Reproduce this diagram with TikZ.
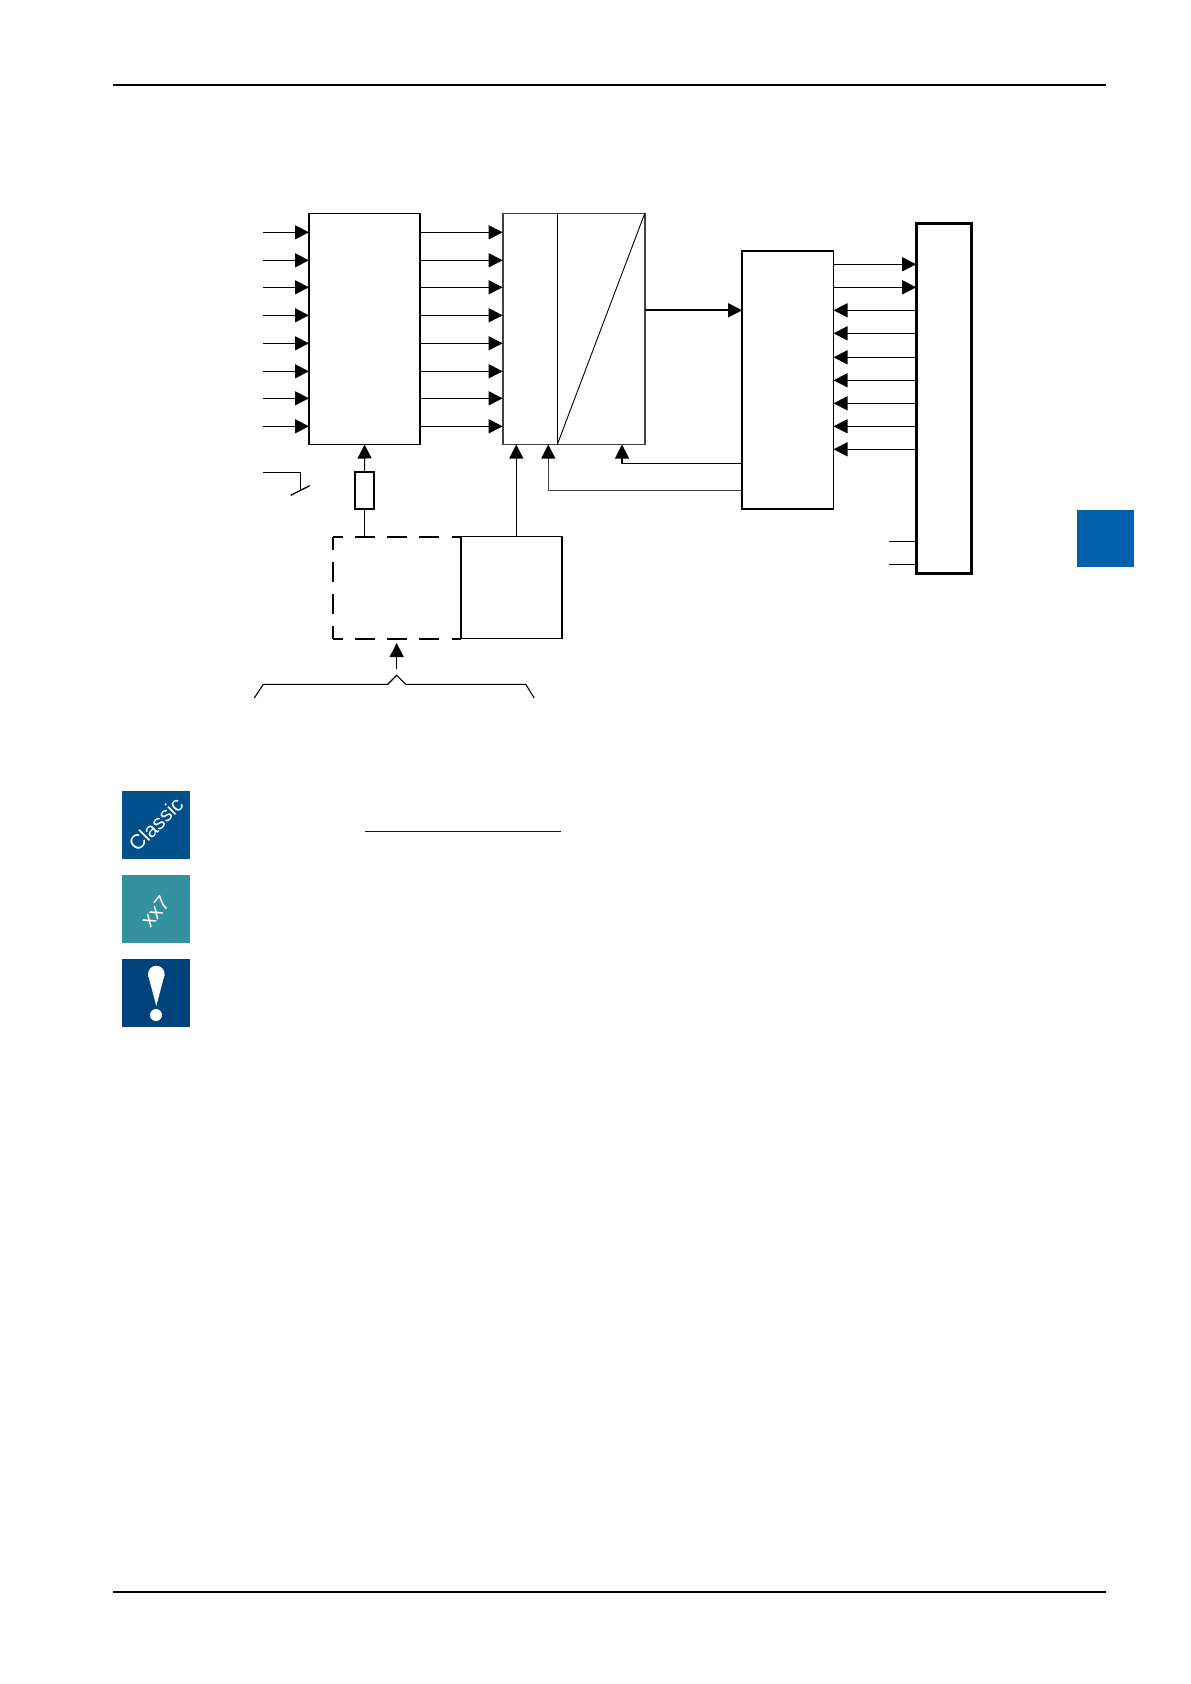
\documentclass[tikz,border=0pt]{standalone}
\usepackage{fontspec}
\setmainfont{Liberation Sans}
\usetikzlibrary{arrows.meta}
\newcommand{\pxu}{0.6pt}
\definecolor{tabblue}{HTML}{0060A9}
\definecolor{classicblue}{HTML}{00508C}
\definecolor{xxteal}{HTML}{3391A0}
\definecolor{hintblue}{HTML}{00427C}
\definecolor{linkblue}{HTML}{0000AA}
\tikzset{block/.style={draw,inner sep=0pt,outer sep=0pt,line width=1.7*\pxu},
 sig/.style={line width=1.1*\pxu,-{Triangle[length=14*\pxu,width=14*\pxu]}},
 wire/.style={line width=1.1*\pxu},
 dashside/.style={line width=2*\pxu,dash pattern=on 20*\pxu off 12.3*\pxu,dash phase=#1*\pxu},
 icon/.style={fill=#1,draw=none,minimum size=68*\pxu,inner sep=0pt,outer sep=0pt},
 icontext/.style={white,font=\fontsize{12.4}{12.4}\selectfont,inner sep=0pt},
 pagerule/.style={line width=1.1*\pxu},
}

\begin{document}
\begin{tikzpicture}[x=\pxu,y=-\pxu]
        \useasboundingbox (0,0) rectangle (1191,1684);
        \coordinate (ruletopl) at (113,85);
        \coordinate (ruletopr) at (1106,85);
        \coordinate (rulebotl) at (113,1592);
        \coordinate (rulebotr) at (1106,1592);
        \draw[pagerule] (ruletopl) -- (ruletopr);
        \draw[pagerule] (rulebotl) -- (rulebotr);

        % blocks
        \node[block,minimum width=111*\pxu,minimum height=231*\pxu] (inputs) at (364.5,329) {};
        \node[block,draw=black!75,minimum width=142*\pxu,minimum height=231*\pxu] (adc) at (573.7,329) {};
        \node[block,minimum width=91.4*\pxu,minimum height=258*\pxu] (ctrl) at (787.8,380) {};
        \node[block,line width=3*\pxu,minimum width=55.3*\pxu,minimum height=350*\pxu] (bus) at (943.85,398) {};
        \node[block,minimum width=19*\pxu,minimum height=37*\pxu] (res) at (364.7,490.5) {};
        \node[inner sep=0pt,outer sep=0pt,minimum width=128*\pxu,minimum height=102*\pxu] (modopt) at (396.7,587.5) {};
        \node[block,minimum width=101.6*\pxu,minimum height=102*\pxu] (modref) at (511.5,587.5) {};
        \node[fill=tabblue,minimum width=56.8*\pxu,minimum height=57*\pxu,inner sep=0pt] (tab) at (1105.6,538.3) {};

        % dashed part of the module
        \draw[dashside=11] (modopt.north east) -- (modopt.north west);
        \draw[dashside=7] (modopt.north west) -- (modopt.south west);
        \draw[dashside=11] (modopt.south east) -- (modopt.south west);

        % converter slope
        \coordinate (adcdiv) at (557.3,329);
        \draw[wire] (adcdiv |- adc.north) -- (adcdiv |- adc.south);
        \draw[wire,line width=0.9*\pxu] (adcdiv |- adc.south) -- (adc.north east);

        % inputs and channels
        \foreach \i/\y in {1/232.3, 2/260.3, 3/287.3, 4/315.3, 5/343.3, 6/371.3, 7/398.3, 8/426.3} {
            \coordinate (in\i) at (263,\y);
            \draw[sig] (in\i) -- (in\i -| inputs.west);
            \draw[sig] (inputs.east |- in\i) -- (adc.west |- in\i);
        }

        % converter to control
        \coordinate (adcout) at (adc.east |- 0,310.3);
        \draw[sig,line width=1.8*\pxu] (adcout) -- (adcout -| ctrl.west);

        % control and bus
        \foreach \i/\y in {1/264.3, 2/287.3} {
            \coordinate (tx\i) at (ctrl.east |- 0,\y);
            \draw[sig] (tx\i) -- (tx\i -| bus.west);
        }
        \foreach \i/\y in {1/310.3, 2/333.3, 3/357.3, 4/380.3, 5/403.3, 6/426.3, 7/449.3} {
            \coordinate (rx\i) at (bus.west |- 0,\y);
            \draw[sig] (rx\i) -- (rx\i -| ctrl.east);
        }
        \foreach \i/\y in {1/541.3, 2/564.3} {
            \coordinate (stub\i) at (889.2,\y);
            \draw[wire] (stub\i) -- (stub\i -| bus.west);
        }

        % control back to converter
        \coordinate (fbka) at (622,463.3);
        \coordinate (fbkb) at (548.3,490.7);
        \draw[sig] (ctrl.west |- fbka) -- (fbka) -- (fbka |- adc.south);
        \draw[sig,draw=black!75,-{Triangle[length=14*\pxu,width=14*\pxu,black]}] (ctrl.west |- fbkb) -- (fbkb) -- (fbkb |- adc.south);

        % module and resistor
        \coordinate (refup) at (516.3,536.5);
        \draw[sig] (refup) -- (refup |- adc.south);
        \draw[sig] (res.north) -- (inputs.south);
        \draw[wire] (res.south) -- (res.south |- modopt.north);

        % switch
        \coordinate (swa) at (263.3,472.3);
        \coordinate (swb) at (300.3,472.3);
        \coordinate (swc) at (300.3,490);
        \coordinate (swd) at (290.7,495.3);
        \coordinate (swe) at (309.7,485.7);
        \draw[wire] (swa) -- (swb) -- (swc);
        \draw[wire,line width=1.3*\pxu] (swd) -- (swe);

        % brace
        \coordinate (brfoot) at (396.7,669.3);
        \coordinate (brtip) at (396.7,643);
        \draw[sig] (brfoot) -- (brtip);
        \coordinate (bra) at (254.3,698);
        \coordinate (brb) at (263.3,684.3);
        \coordinate (brc) at (387.7,684.3);
        \coordinate (brd) at (396.7,675.3);
        \coordinate (bre) at (405.7,684.3);
        \coordinate (brf) at (525.7,684.3);
        \coordinate (brg) at (534.3,698);
        \draw[wire] (bra) -- (brb) -- (brc) -- (brd) -- (bre) -- (brf) -- (brg);

        % icons
        \node[icon=classicblue] (classic) at (156,825) {};
        \node[icontext,rotate=45] (classictxt) at (155.8,824.2) {Classic};
        \node[icon=xxteal] (xxseven) at (156,909) {};
        \node[icontext,rotate=50] (xxtxt) at (155.3,911.7) {xx7};
        \node[icon=hintblue] (hint) at (156,993) {};
        \fill[white] (156.3,974) circle[radius=8.3];
        \fill[white] (148.1,975) -- (164.5,975) -- (156.3,1006) -- cycle;
        \fill[white] (156,1015) circle[radius=6];

        % link
        \coordinate (linka) at (365,831.7);
        \coordinate (linkb) at (561,831.7);
        \draw[linkblue,line width=1.1*\pxu] (linka) -- (linkb);
\end{tikzpicture}
\end{document}
